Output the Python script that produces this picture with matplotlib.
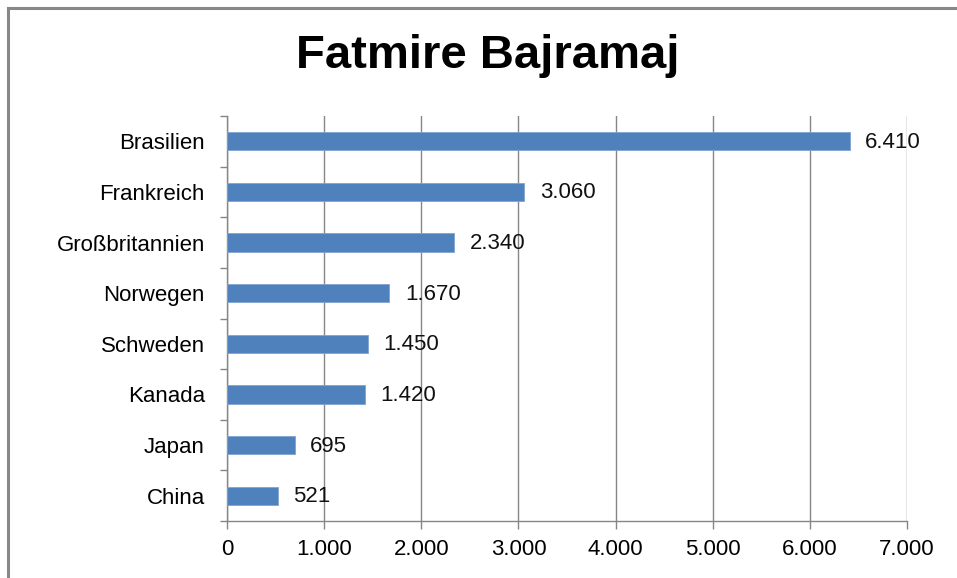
import matplotlib.pyplot as plt
from matplotlib.lines import Line2D
import numpy as np

countries = ['Brasilien', 'Frankreich', 'Großbritannien', 'Norwegen',
             'Schweden', 'Kanada', 'Japan', 'China']
values = [6410, 3060, 2340, 1670, 1450, 1420, 695, 521]
xticks = [0, 1000, 2000, 3000, 4000, 5000, 6000, 7000]


def fmt(v):
    return '{:,}'.format(v).replace(',', '.')


def plot():
    plt.rcParams['font.family'] = ['Liberation Sans', 'DejaVu Sans']
    fig = plt.figure(figsize=(9.57, 5.78), dpi=100)
    ax = fig.add_axes([227 / 957, 57 / 578, 680 / 957, 405 / 578])

    y = np.arange(len(countries))[::-1]
    ax.barh(y, values, height=0.36, color='#4F81BD', edgecolor='#7FA3CF',
            linewidth=0.6, zorder=3)
    for yi, v in zip(y, values):
        ax.text(v + 160, yi - 0.02, fmt(v), va='center', ha='left',
                fontsize=16, color='#111111', zorder=4)

    ax.set_xlim(0, 7000)
    ax.set_ylim(-0.5, len(countries) - 0.5)
    ax.set_xticks(xticks)
    ax.set_xticklabels([fmt(t) for t in xticks], fontsize=16)
    ax.set_yticks(y)
    ax.set_yticklabels(countries, fontsize=16)
    ax.set_yticks(np.arange(-0.5, len(countries), 1), minor=True)
    ax.tick_params(axis='y', which='major', length=0, pad=16)
    ax.tick_params(axis='y', which='minor', length=5, color='#868686', width=1)
    ax.tick_params(axis='x', length=6, color='#868686', width=1, pad=7)
    ax.xaxis.grid(True, color='#868686', linewidth=1, zorder=0)
    for s in ['top', 'right']:
        ax.spines[s].set_visible(False)
    for s in ['left', 'bottom']:
        ax.spines[s].set_color('#868686')
        ax.spines[s].set_linewidth(1)

    fig.text(488 / 957, 1 - 56 / 578, 'Fatmire Bajramaj', ha='center',
             va='center', fontsize=34, fontweight='bold')

    # chart frame (only top and left edges visible)
    fig.add_artist(Line2D([8 / 957, 1], [1 - 8 / 578, 1 - 8 / 578],
                          transform=fig.transFigure, color='#888888', lw=2.2))
    fig.add_artist(Line2D([8 / 957, 8 / 957], [0, 1 - 8 / 578],
                          transform=fig.transFigure, color='#888888', lw=2.2))

    plt.savefig('out.png', dpi=100)


if __name__ == '__main__':
    plot()
